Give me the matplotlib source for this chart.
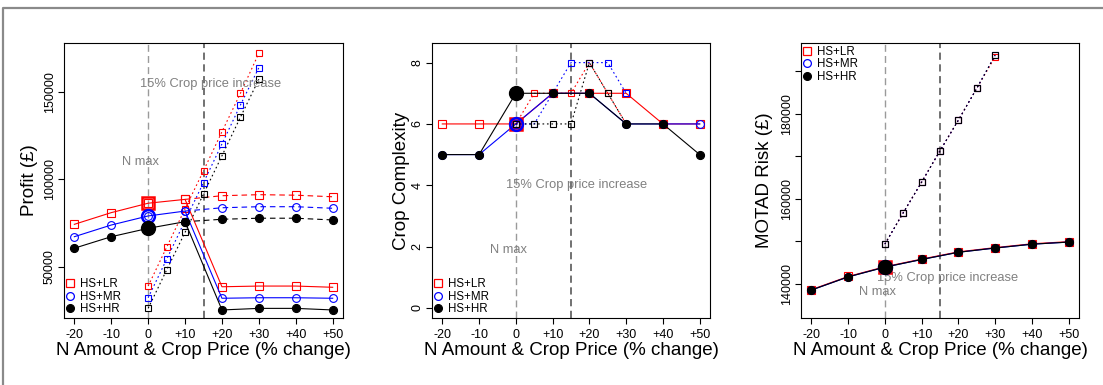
import matplotlib
matplotlib.use("Agg")
import matplotlib.pyplot as plt
from matplotlib.lines import Line2D

plt.rcParams['font.family'] = ['Liberation Sans', 'DejaVu Sans']

# ---------------- data ----------------
x_n = [-20, -10, 0, 10, 20, 30, 40, 50]          # N amount change (solid)
x_b = [10, 20, 30, 40, 50]                        # dashed continuation
x_p = [0, 5, 10, 15, 20, 25, 30]                  # crop price change (dotted)
xtick_vals = [-20, -10, 0, 10, 20, 30, 40, 50]
xtick_labels = ["-20", "-10", "0", "+10", "+20", "+30", "+40", "+50"]
groups = ["HS+LR", "HS+MR", "HS+HR"]

profit_n = {
    "HS+LR": [74300, 81000, 86400, 88600, 38500, 38900, 38900, 38200],
    "HS+MR": [67200, 73900, 79100, 81900, 31900, 32200, 32200, 31900],
    "HS+HR": [60600, 67200, 72000, 75800, 25200, 26100, 26100, 25200],
}
profit_b = {
    "HS+LR": [88600, 90700, 91300, 91000, 90100],
    "HS+MR": [81900, 83800, 84400, 84400, 83500],
    "HS+HR": [75800, 77200, 77800, 77800, 76800],
}
profit_p = {
    "HS+LR": [38900, 61100, 83200, 105000, 127400, 149400, 172400],
    "HS+MR": [32200, 54200, 76400, 98200, 120400, 142700, 164100],
    "HS+HR": [26100, 48100, 69700, 91700, 113600, 135700, 157500],
}

complex_n = {
    "HS+LR": [6, 6, 6, 7, 7, 7, 6, 6],
    "HS+MR": [5, 5, 6, 7, 7, 6, 6, 6],
    "HS+HR": [5, 5, 7, 7, 7, 6, 6, 5],
}
complex_p = {
    "HS+LR": [6, 7, 7, 7, 8, 7, 6],
    "HS+MR": [6, 6, 7, 8, 8, 8, 7],
    "HS+HR": [6, 6, 6, 6, 8, 7, 6],
}

risk_n = {
    "HS+LR": [138600, 141700, 144000, 145800, 147500, 148500, 149400, 149900],
    "HS+MR": [138500, 141600, 143900, 145700, 147400, 148400, 149300, 149800],
    "HS+HR": [138500, 141600, 143900, 145700, 147400, 148400, 149300, 149800],
}
risk_p = {
    "HS+LR": [149300, 156700, 163900, 171300, 178500, 186000, 193400],
    "HS+MR": [149300, 156700, 163900, 171300, 178500, 186000, 193800],
    "HS+HR": [149300, 156700, 163900, 171300, 178500, 186000, 193800],
}

# ---------------- style ----------------
colors = {"HS+LR": "#FF0000", "HS+MR": "#0000FF", "HS+HR": "#000000"}
markers = {"HS+LR": "s", "HS+MR": "o", "HS+HR": "o"}
filled = {"HS+LR": False, "HS+MR": False, "HS+HR": True}

W, H = 1103, 385
fig = plt.figure(figsize=(W / 100, H / 100), dpi=100)

# outer gray frame (clipped at right / bottom)
fig.add_artist(Line2D([3 / W, 3 / W, 1.0], [0.0, 1 - 8 / H, 1 - 8 / H],
                      transform=fig.transFigure, color="#8a8a8a", lw=1.6))

def make_ax(left_px, right_px):
    top, bottom = 43, 318
    return fig.add_axes([left_px / W, (H - bottom) / H,
                         (right_px - left_px) / W, (bottom - top) / H])

axes = [make_ax(64, 343), make_ax(432, 710), make_ax(801, 1079)]

def common(ax, ylim, yticks, ylabels, ylabel, ylab_off):
    ax.set_xlim(-22.8, 52.8)
    ax.set_ylim(*ylim)
    ax.set_xticks(xtick_vals)
    ax.set_xticklabels(xtick_labels)
    ax.set_yticks(yticks)
    ax.set_yticklabels(ylabels, rotation=90, va="center")
    ax.tick_params(direction="out", length=4, width=0.8, labelsize=9, pad=2)
    ax.tick_params(axis="x", pad=4)
    for s in ax.spines.values():
        s.set_linewidth(0.8)
    ax.set_xlabel("N Amount & Crop Price (% change)", fontsize=13.5)
    ax.xaxis.set_label_coords(0.5, -24 / 275)
    ax.set_ylabel(ylabel, fontsize=13.5)
    ax.yaxis.set_label_coords(-ylab_off / 278, 0.5)
    ax.axvline(0, color="#9a9a9a", lw=1.0, dashes=(5, 3), zorder=1)
    ax.axvline(15, color="#666666", lw=1.3, dashes=(4, 2.5), zorder=1)

def draw_group(ax, g, xn, yn, xp, yp, xb=None, yb=None):
    c = colors[g]
    mfc = c if filled[g] else "none"
    ms = 5.8 if filled[g] else 5.6
    ax.plot(xn, yn, color=c, lw=0.8, marker=markers[g], ms=ms, mfc=mfc,
            mec=c, mew=0.8, zorder=3)
    if xb is not None:
        ax.plot(xb, yb, color=c, lw=0.8, dashes=(5, 3.5), marker=markers[g],
                ms=ms, mfc=mfc, mec=c, mew=0.8, zorder=3)
    ax.plot(xp, yp, color=c, lw=0.8, dashes=(1.5, 2.5), marker="s", ms=4.4,
            mfc="none", mec=c, mew=0.8, zorder=3)

def draw_big(ax, g, xn, yn):
    c = colors[g]
    i = xn.index(0)
    if filled[g]:
        ax.plot([xn[i]], [yn[i]], marker="o", ms=10, mfc=c, mec=c, mew=1,
                ls="none", zorder=5)
    else:
        ax.plot([xn[i]], [yn[i]], marker=markers[g], ms=9.2, mfc="none",
                mec=c, mew=1.8, ls="none", zorder=5)

def add_legend(ax, loc):
    handles = []
    for g in groups:
        c = colors[g]
        handles.append(Line2D([], [], ls="none", marker=markers[g], ms=5.6,
                              mfc=c if filled[g] else "none", mec=c, mew=0.9))
    ax.legend(handles, groups, loc=loc, frameon=False, fontsize=8.3,
              handlelength=0.6, handletextpad=0.5, labelspacing=0.05,
              borderaxespad=0.15, borderpad=0.1)

# ---------------- panel 1: profit ----------------
ax = axes[0]
common(ax, (20585, 178268), [50000, 100000, 150000],
       ["50000", "100000", "150000"], "Profit (£)", 26)
for g in groups:
    draw_group(ax, g, x_n, profit_n[g], x_p, profit_p[g], x_b, profit_b[g])
for g in groups:
    draw_big(ax, g, x_n, profit_n[g])
ax.text(-2.2, 110000, "N max", color="#808080", fontsize=9.3, ha="center", va="center")
ax.text(16.8, 154500, "15% Crop price increase", color="#808080", fontsize=9.3,
        ha="center", va="center")
add_legend(ax, "lower left")

# ---------------- panel 2: crop complexity ----------------
ax = axes[1]
common(ax, (-0.33, 8.64), [0, 2, 4, 6, 8], ["0", "2", "4", "6", "8"],
       "Crop Complexity", 22)
for g in groups:
    draw_group(ax, g, x_n, complex_n[g], x_p, complex_p[g])
for g in groups:
    draw_big(ax, g, x_n, complex_n[g])
ax.text(-2.0, 1.9, "N max", color="#808080", fontsize=9.3, ha="center", va="center")
ax.text(16.6, 4.0, "15% Crop price increase", color="#808080", fontsize=9.3,
        ha="center", va="center")
add_legend(ax, "lower left")

# ---------------- panel 3: MOTAD risk ----------------
ax = axes[2]
rt = [140000, 150000, 160000, 170000, 180000, 190000]
common(ax, (131929, 196659), rt,
       ["140000", "", "160000", "", "180000", ""], "MOTAD Risk (£)", 28)
for g in groups:
    draw_group(ax, g, x_n, risk_n[g], x_p, risk_p[g])
for g in groups:
    draw_big(ax, g, x_n, risk_n[g])
ax.text(-2.0, 138100, "N max", color="#808080", fontsize=9.3, ha="center", va="center")
ax.text(17.0, 141400, "15% Crop price increase", color="#808080", fontsize=9.3,
        ha="center", va="center")
add_legend(ax, "upper left")

fig.savefig("out.png", dpi=100)
